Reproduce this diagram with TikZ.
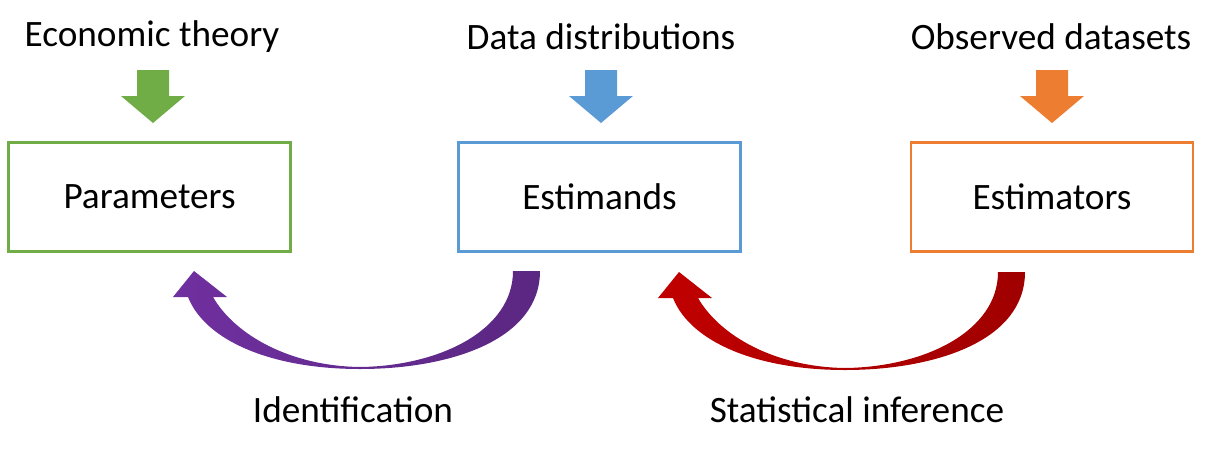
\documentclass[tikz,border=0pt]{standalone}
\usepackage{fontspec}
\setmainfont{Carlito}
\usetikzlibrary{positioning}

\definecolor{theorygreen}{HTML}{70AD47}
\definecolor{datablue}{HTML}{5B9BD5}
\definecolor{obsorange}{HTML}{ED7D31}
\definecolor{identpurple}{HTML}{7030A0}
\definecolor{identdark}{HTML}{5A2781}
\definecolor{infred}{HTML}{C00000}
\definecolor{infdark}{HTML}{A00000}

\begin{document}
\begin{tikzpicture}[x=0.02cm, y=-0.02cm, font=\fontsize{21.2}{25}\selectfont,
  box/.style={draw, line width=1.2pt, minimum width=5.64cm, minimum height=2.18cm},
  pics/downarrow/.style={code={
    \fill (-16,0) -- (16,0) -- (16,26) -- (32,26) -- (0,53) -- (-32,26) -- (-16,26) -- cycle;}},
  pics/bentarrow/.style 2 args={code={
    \shade[left color=#1, right color=#2]
      (513,271) -- (540,271) .. controls (540,340) and (450,369) .. (360,369)
      .. controls (270,369) and (205,340) .. (188,297) -- (173,297) -- (194,271)
      -- (227,297) -- (213,297) .. controls (235,335) and (290,366) .. (360,367)
      .. controls (440,366) and (513,330) .. (513,271) -- cycle;}}]
  \useasboundingbox (0,0) rectangle (1215,454);

  % --- fila superior: fuentes ---
  \node (theory) at (152,37) {Economic theory};
  \node (distrib) at (601,37) {Data distributions};
  \node (observed) at (1051,37) {Observed datasets};

  \pic[color=theorygreen] at (153,70) {downarrow};
  \pic[color=datablue] at (601,70) {downarrow};
  \pic[color=obsorange] at (1052,70) {downarrow};

  % --- cajas ---
  \node[box, draw=theorygreen] (param) at (149.5,197) {Parameters};
  \node[box, draw=datablue] (estimand) at (599.5,197) {Estimands};
  \node[box, draw=obsorange] (estimator) at (1052,197) {Estimators};

  % --- flechas curvas ---
  \pic at (0,0) {bentarrow={identpurple}{identdark}};
  \pic at (485,1) {bentarrow={infred}{infdark}};

  \node (ident) at (353,410) {Identification};
  \node (infer) at (857,410) {Statistical inference};
\end{tikzpicture}
\end{document}
